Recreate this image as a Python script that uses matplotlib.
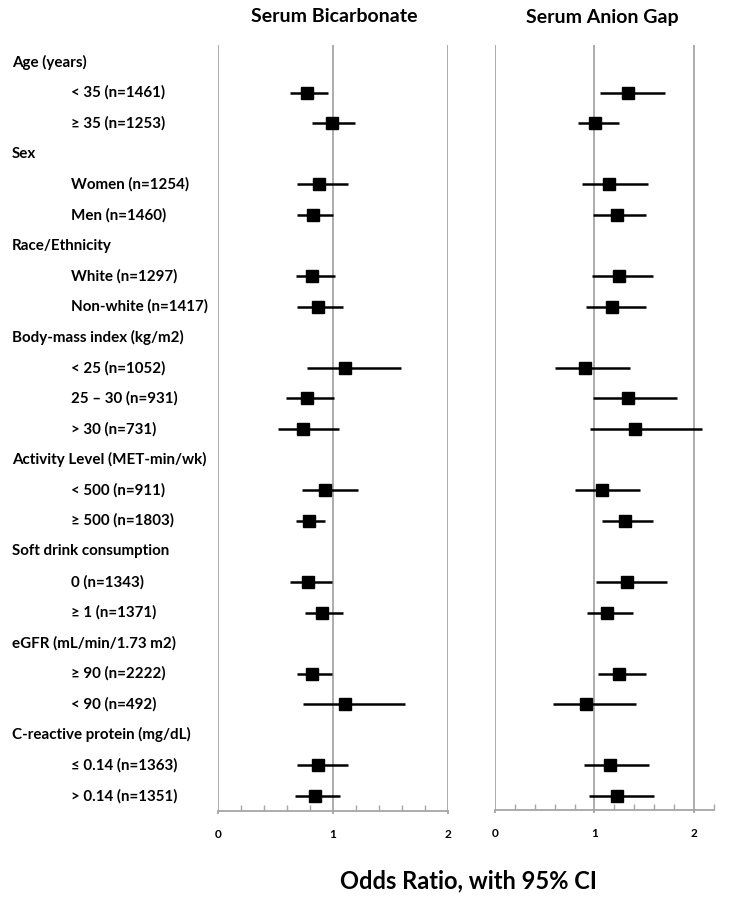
import numpy as np
import matplotlib
matplotlib.use('Agg')
import matplotlib.pyplot as plt
from matplotlib.transforms import blended_transform_factory

plt.rcParams['font.family'] = ['Lato', 'DejaVu Sans']
plt.rcParams['font.weight'] = 'bold'

labels = ['Age (years)', '< 35 (n=1461)', '\u2265 35 (n=1253)',
          'Sex', 'Women (n=1254)', 'Men (n=1460)',
          'Race/Ethnicity', 'White (n=1297)', 'Non-white (n=1417)',
          'Body-mass index (kg/m2)', '< 25 (n=1052)', '25 \u2013 30 (n=931)', '> 30 (n=731)',
          'Activity Level (MET-min/wk)', '< 500 (n=911)', '\u2265 500 (n=1803)',
          'Soft drink consumption', '0 (n=1343)', '\u2265 1 (n=1371)',
          'eGFR (mL/min/1.73 m2)', '\u2265 90 (n=2222)', '< 90 (n=492)',
          'C-reactive protein (mg/dL)', '\u2264 0.14 (n=1363)', '> 0.14 (n=1351)']
is_header = [1, 0, 0, 1, 0, 0, 1, 0, 0, 1, 0, 0, 0, 1, 0, 0, 1, 0, 0, 1, 0, 0, 1, 0, 0]

n = np.nan
bic_or = [n, 0.77, 0.99, n, 0.88, 0.83, n, 0.82, 0.87, n, 1.10, 0.77, 0.74, n, 0.93, 0.79, n, 0.78, 0.90, n, 0.82, 1.10, n, 0.87, 0.84]
bic_lo = [n, 0.63, 0.82, n, 0.69, 0.69, n, 0.68, 0.69, n, 0.77, 0.59, 0.52, n, 0.73, 0.68, n, 0.63, 0.76, n, 0.69, 0.74, n, 0.69, 0.67]
bic_hi = [n, 0.96, 1.19, n, 1.13, 1.00, n, 1.02, 1.09, n, 1.59, 1.01, 1.05, n, 1.22, 0.93, n, 0.99, 1.09, n, 0.99, 1.63, n, 1.13, 1.06]

gap_or = [n, 1.34, 1.01, n, 1.15, 1.23, n, 1.25, 1.18, n, 0.90, 1.34, 1.41, n, 1.08, 1.31, n, 1.33, 1.13, n, 1.25, 0.91, n, 1.16, 1.23]
gap_lo = [n, 1.06, 0.83, n, 0.87, 0.99, n, 0.98, 0.91, n, 0.60, 0.99, 0.95, n, 0.80, 1.08, n, 1.02, 0.92, n, 1.04, 0.58, n, 0.89, 0.94]
gap_hi = [n, 1.71, 1.25, n, 1.54, 1.52, n, 1.59, 1.52, n, 1.36, 1.83, 2.08, n, 1.46, 1.59, n, 1.73, 1.39, n, 1.52, 1.42, n, 1.55, 1.60]

W, H = 729, 900
fig = plt.figure(figsize=(W / 100, H / 100), dpi=100)
top = 45
ax1 = fig.add_axes([218 / W, 1 - 811 / H, 230 / W, (811 - top) / H])
ax2 = fig.add_axes([495.3 / W, 1 - 809.5 / H, 218.2 / W, (809.5 - top) / H])

y = np.arange(len(labels))
gray = '#a6a6a6'

def panel(ax, orv, lo, hi, xmax, ybot):
    orv, lo, hi = np.array(orv), np.array(lo), np.array(hi)
    for g in [0, 1, 2]:
        ax.axvline(g, color=gray, lw=1.3, zorder=0)
    ax.hlines(y, lo, hi, color='black', lw=1.8, zorder=2)
    ax.plot(orv, y, 's', color='black', ms=8.3, zorder=3)
    ax.set_xlim(0, xmax)
    ax.set_ylim(ybot, -0.556)
    for s in ['top', 'right', 'left']:
        ax.spines[s].set_visible(False)
    ax.spines['bottom'].set_color(gray)
    ax.spines['bottom'].set_linewidth(1.3)
    ax.set_yticks([])
    ax.set_xticks([0, 1, 2])
    ax.set_xticks(np.arange(0.2, xmax + 0.01, 0.2), minor=True)
    ax.tick_params(axis='x', which='major', direction='out', length=2, color=gray,
                   width=1.3, labelsize=8.5, pad=11)
    ax.tick_params(axis='x', which='minor', direction='in', length=4, color=gray, width=1)

panel(ax1, bic_or, bic_lo, bic_hi, 2.0, 24.49)
panel(ax2, gap_or, gap_lo, gap_hi, 2.2, 24.44)

tr = blended_transform_factory(fig.transFigure, ax1.transData)
for yi, lab, h in zip(y, labels, is_header):
    x = 12 / W if h else 71 / W
    ax1.text(x, yi, lab, transform=tr, ha='left', va='center', fontsize=10.9, fontweight='bold')

fig.text(334 / W, 1 - 17 / H, 'Serum Bicarbonate', ha='center', va='center', fontsize=14, fontweight='bold')
fig.text(602 / W, 1 - 17 / H, 'Serum Anion Gap', ha='center', va='center', fontsize=14, fontweight='bold')
fig.text(468 / W, 1 - 881 / H, 'Odds Ratio, with 95% CI', ha='center', va='center', fontsize=17, fontweight='bold')

fig.savefig('out.png', dpi=100, facecolor='white')
